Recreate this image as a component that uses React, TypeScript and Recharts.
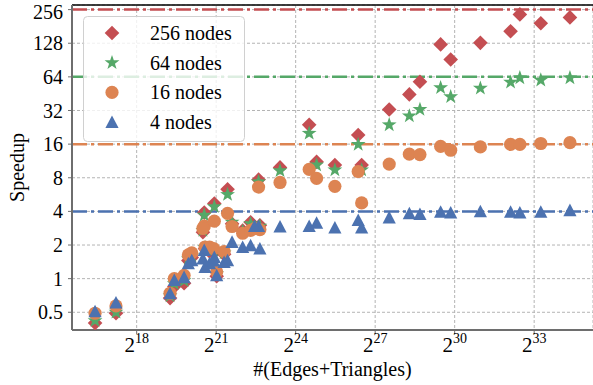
import React from 'react';
import { ComposedChart, Scatter, XAxis, YAxis, CartesianGrid, ReferenceLine, Legend } from 'recharts';

// log2 of #(Edges+Triangles) for each graph
const log2Edges = [16.43, 17.22, 19.26, 19.42, 19.79, 19.95, 20.08, 20.55, 20.5, 20.58, 20.75, 20.93, 20.9, 21.02, 21.3, 21.43, 21.6, 22.0, 22.3, 22.6, 22.65, 22.45, 23.41, 24.51, 24.79, 25.48, 26.36, 26.49, 27.53, 28.29, 28.69, 29.47, 29.85, 30.97, 32.11, 32.46, 33.25, 34.35];
const speedup256 = [0.4, 0.49, 0.67, 0.85, 0.91, 1.45, 1.55, 3.9, 2.6, 1.85, 1.75, 4.7, 1.7, 1.05, 1.65, 6.3, 3.1, 2.7, 3.2, 7.7, 3.0, 2.9, 9.9, 23.8, 11.1, 10.4, 19.3, 10.4, 32.7, 44.6, 57.9, 125, 91.6, 129, 164, 232, 193, 218];
const speedup64 = [0.42, 0.5, 0.7, 0.9, 0.96, 1.5, 1.6, 3.7, 2.7, 1.9, 1.85, 4.4, 1.8, 1.1, 1.7, 5.66, 3.2, 2.65, 3.1, 7.36, 2.95, 2.9, 9.24, 20.0, 10.4, 9.4, 15.9, 9.4, 23.8, 28.6, 32.7, 51.2, 42.5, 50.6, 57.3, 62.7, 59.9, 62.7];
const speedup16 = [0.49, 0.57, 0.74, 1.0, 1.07, 1.63, 1.7, 2.95, 2.81, 1.92, 1.92, 3.27, 1.86, 1.15, 1.75, 3.84, 2.93, 2.55, 2.7, 6.6, 2.75, 2.8, 7.26, 9.5, 7.9, 6.7, 9.1, 4.76, 10.6, 13.0, 12.9, 15.3, 14.1, 15.1, 15.9, 15.9, 16.2, 16.5];
const speedup4 = [0.51, 0.61, 0.74, 0.97, 1.03, 1.37, 1.46, 1.8, 1.51, 1.27, 1.37, 1.56, 1.45, 1.07, 1.41, 1.46, 2.13, 1.92, 1.99, 2.95, 1.86, 2.95, 2.93, 2.95, 3.16, 2.87, 3.34, 2.87, 3.53, 3.84, 3.79, 3.96, 3.91, 4.0, 3.96, 3.91, 3.96, 4.1];

const xTicks = [18, 21, 24, 27, 30, 33];
const yTicks = [0.5, 1, 2, 4, 8, 16, 32, 64, 128, 256];
const idealSpeedups = [256, 64, 16, 4];
const seriesLabels = ['256 nodes', '64 nodes', '16 nodes', '4 nodes'];
const seriesColors = ['#c44e52', '#55a868', '#dd8452', '#4c72b0'];
const seriesKinds = ['diamond', 'star', 'circle', 'triangle'];

const FONT = '"Liberation Serif", "Times New Roman", serif';

const toPoints = (ys: number[]) => log2Edges.map((x, i) => ({ x, y: ys[i] }));
const seriesData = [toPoints(speedup256), toPoints(speedup64), toPoints(speedup16), toPoints(speedup4)];

function marker(kind: string, cx: number, cy: number, color: string) {
  if (kind === 'diamond') {
    const r = 7.3;
    return <polygon points={`${cx},${cy - r} ${cx + r},${cy} ${cx},${cy + r} ${cx - r},${cy}`} fill={color} />;
  }
  if (kind === 'star') {
    const ro = 7.8, ri = 3.1;
    const pts: string[] = [];
    for (let k = 0; k < 10; k++) {
      const r = k % 2 === 0 ? ro : ri;
      const a = -Math.PI / 2 + (k * Math.PI) / 5;
      pts.push(`${cx + r * Math.cos(a)},${cy + r * Math.sin(a)}`);
    }
    return <polygon points={pts.join(' ')} fill={color} />;
  }
  if (kind === 'circle') {
    return <circle cx={cx} cy={cy} r={6.6} fill={color} />;
  }
  const h = 6.6;
  return <polygon points={`${cx},${cy - h} ${cx + h},${cy + h * 0.9} ${cx - h},${cy + h * 0.9}`} fill={color} />;
}

const makeShape = (kind: string, color: string) => (props: any) => {
  const { cx, cy } = props;
  if (cx == null || cy == null) return <g />;
  return marker(kind, cx, cy, color);
};

const XTick = (props: any) => {
  const { x, y, payload } = props;
  return (
    <text x={x} y={y + 14} textAnchor="middle" fontFamily={FONT} fill="#000">
      <tspan fontSize={21}>2</tspan>
      <tspan fontSize={14} dy={-9}>{payload.value}</tspan>
    </text>
  );
};

const YTitle = (props: any) => {
  const vb = props.viewBox || { x: 0, y: 5, width: 72, height: 325 };
  const x = vb.x + 24;
  const y = vb.y + vb.height / 2;
  return (
    <text x={x} y={y} transform={`rotate(-90 ${x} ${y})`} textAnchor="middle" fontSize={20} fontFamily={FONT} fill="#000">
      Speedup
    </text>
  );
};

const XTitle = (props: any) => {
  const vb = props.viewBox || { x: 72, y: 330, width: 521, height: 55 };
  return (
    <text x={vb.x + vb.width / 2} y={vb.y + 46} textAnchor="middle" fontSize={20} fontFamily={FONT} fill="#000">
      #(Edges+Triangles)
    </text>
  );
};

const LegendBox = () => (
  <svg width={162} height={126} style={{ display: 'block' }}>
    <rect x={0.5} y={0.5} width={161} height={125} rx={4} fill="rgba(255,255,255,0.8)" stroke="#d0d0d0" />
    {seriesLabels.map((label, i) => (
      <g key={label}>
        {marker(seriesKinds[i], 29, 17 + i * 29.7, seriesColors[i])}
        <text x={67} y={24 + i * 29.7} fontSize={20} fontFamily={FONT} fill="#000">{label}</text>
      </g>
    ))}
  </svg>
);

export default function App() {
  return (
    <div style={{ position: 'absolute', left: 0, top: 0, fontFamily: FONT }}>
      <ComposedChart width={593} height={385} margin={{ top: 5, right: 0, bottom: 0, left: 0 }}>
        <CartesianGrid stroke="#b4b4b4" strokeDasharray="3 2" />
        <XAxis
          type="number"
          dataKey="x"
          domain={[15.56, 35.22]}
          allowDataOverflow
          ticks={xTicks}
          height={55}
          tickSize={4}
          tickMargin={4}
          tick={<XTick />}
          axisLine={{ stroke: '#6e6e6e', strokeWidth: 2 }}
          tickLine={{ stroke: '#6e6e6e' }}
          label={<XTitle />}
        />
        <YAxis
          type="number"
          dataKey="y"
          scale="log"
          domain={[0.347, 281.5]}
          allowDataOverflow
          ticks={yTicks}
          width={72}
          tickSize={4}
          tickMargin={5}
          tick={{ fontSize: 20, fill: '#000', fontFamily: FONT }}
          axisLine={{ stroke: '#6e6e6e', strokeWidth: 2 }}
          tickLine={{ stroke: '#6e6e6e' }}
          label={<YTitle />}
        />
        <ReferenceLine y={281.5} stroke="#000" strokeWidth={1.5} ifOverflow="visible" />
        {idealSpeedups.map((v, i) => (
          <ReferenceLine key={v} y={v} stroke={seriesColors[i]} strokeWidth={2.5} strokeDasharray="15 4 3 4" />
        ))}
        {seriesData.map((d, i) => (
          <Scatter
            key={seriesLabels[i]}
            name={seriesLabels[i]}
            data={d}
            fill={seriesColors[i]}
            shape={makeShape(seriesKinds[i], seriesColors[i])}
            isAnimationActive={false}
          />
        ))}
        <Legend
          layout="vertical"
          align="center"
          verticalAlign="middle"
          wrapperStyle={{ left: 83, top: 16, width: 162, height: 126 }}
          content={<LegendBox />}
        />
      </ComposedChart>
    </div>
  );
}
